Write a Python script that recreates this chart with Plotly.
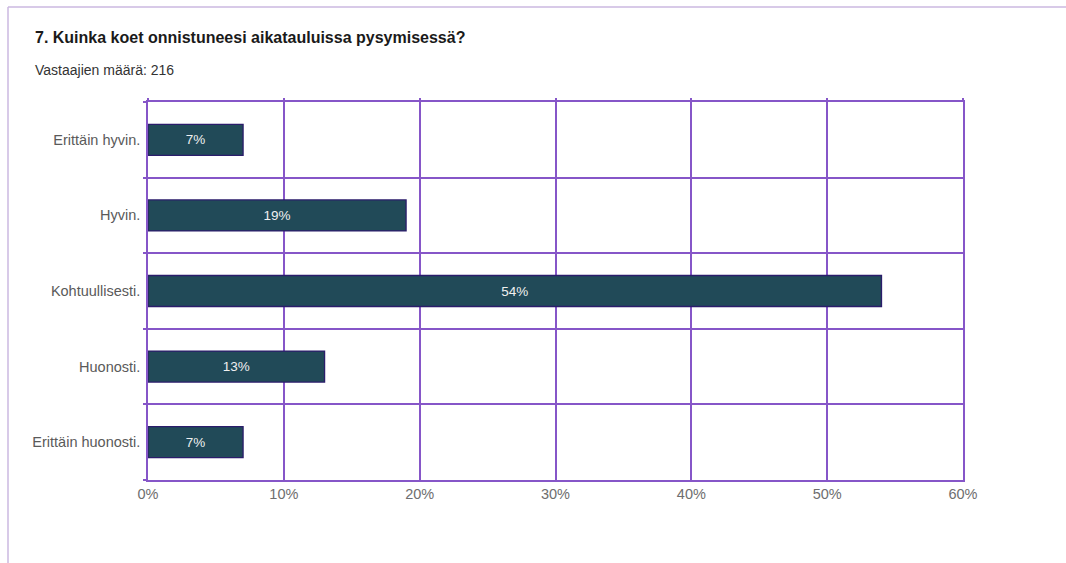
import plotly.graph_objects as go

categories = ["Erittäin hyvin.", "Hyvin.", "Kohtuullisesti.", "Huonosti.", "Erittäin huonosti."]
values = [7, 19, 54, 13, 7]
labels = ["7%", "19%", "54%", "13%", "7%"]
x_ticks = [0, 10, 20, 30, 40, 50, 60]
x_tick_text = ["0%", "10%", "20%", "30%", "40%", "50%", "60%"]

GRID = "#8656c8"
GW = 1.5
W, H = 1066, 563
ML, MR, MT, MB = 148, 103, 102, 83
pw, ph = W - ML - MR, H - MT - MB

fig = go.Figure()
fig.add_trace(go.Bar(
    y=categories, x=values, orientation="h", width=0.41,
    marker=dict(color="#214a58", line=dict(color="#2b1d6b", width=1.3)),
    text=labels, textposition="inside", insidetextanchor="middle",
    textfont=dict(family="Liberation Sans, Arial", size=13.5, color="#f0f0f0"),
    hoverinfo="skip",
))
# invisible trace for top axis (ticks only)
fig.add_trace(go.Scatter(x=[0], y=[categories[0]], xaxis="x2", mode="markers",
                         marker=dict(opacity=0), hoverinfo="skip", showlegend=False))

fig.update_layout(
    width=W, height=H,
    margin=dict(l=ML, r=MR, t=MT, b=MB, pad=0),
    paper_bgcolor="white", plot_bgcolor="white",
    showlegend=False,
    font=dict(family="Liberation Sans, Arial", color="#666666", size=14),
    xaxis=dict(range=[0, 60], tickvals=x_ticks, ticktext=x_tick_text,
               showgrid=True, gridcolor=GRID, gridwidth=GW,
               showline=True, linecolor=GRID, linewidth=GW, mirror=True,
               ticks="", zeroline=False,
               tickfont=dict(size=14.5, color="#6e6e6e")),
    xaxis2=dict(range=[0, 60], tickvals=x_ticks, overlaying="x", side="top",
                matches="x", ticks="outside", ticklen=3, tickcolor=GRID, tickwidth=GW,
                showticklabels=False, showgrid=False, showline=False, zeroline=False),
    yaxis=dict(type="category", categoryorder="array", categoryarray=categories[::-1],
               tickson="boundaries", showgrid=True, gridcolor=GRID, gridwidth=GW,
               ticks="outside", ticklen=3, tickcolor=GRID, tickwidth=GW,
               showline=True, linecolor=GRID, linewidth=GW, mirror=True,
               ticklabelstandoff=3,
               tickfont=dict(size=14.5, color="#5a5a5a")),
)

# page border (light purple) top and left
bx = (8 - ML) / pw
by = 1 + (MT - 7) / ph
bb = -(MB) / ph
fig.add_shape(type="line", xref="paper", yref="paper", x0=bx, x1=(W - ML) / pw, y0=by, y1=by,
              line=dict(color="#cbb8e0", width=1.5))
fig.add_shape(type="line", xref="paper", yref="paper", x0=bx, x1=bx, y0=by, y1=bb,
              line=dict(color="#cbb8e0", width=1.5))

fig.add_annotation(text="<b>7. Kuinka koet onnistuneesi aikatauluissa pysymisessä?</b>",
                   xref="paper", yref="paper", x=(33 - ML) / pw, y=1 + (MT - 37) / ph,
                   xanchor="left", yanchor="middle", showarrow=False,
                   font=dict(family="Liberation Sans, Arial", size=16, color="#1a1a1a"))
fig.add_annotation(text="Vastaajien määrä: 216",
                   xref="paper", yref="paper", x=(33 - ML) / pw, y=1 + (MT - 70) / ph,
                   xanchor="left", yanchor="middle", showarrow=False,
                   font=dict(family="Liberation Sans, Arial", size=14, color="#333333"))

fig.write_html("out.html")
